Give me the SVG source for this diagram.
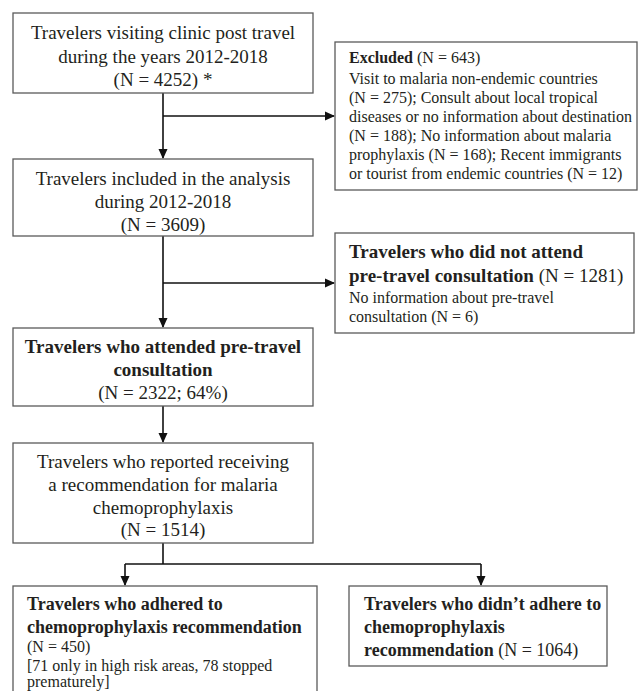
<svg xmlns="http://www.w3.org/2000/svg" width="639" height="691" viewBox="0 0 639 691">
<defs>
<style>
.box{fill:#fff;stroke:#5a5a5a;stroke-width:1.3}
.t{font-family:"Liberation Serif","Times New Roman",serif;fill:#231f20}
.big{font-size:19px}
.mid{font-size:18px}
.sm{font-size:16px}
.b{font-weight:bold}
.c{text-anchor:middle}
.ln{fill:none;stroke:#111;stroke-width:1.6}
</style>
<marker id="ah" markerWidth="10" markerHeight="10" refX="9" refY="5" orient="auto" markerUnits="userSpaceOnUse">
<path d="M0,0.5 L10,5 L0,9.5 Z" fill="#111"/>
</marker>
</defs>
<rect width="639" height="691" fill="#fff"/>
<g id="connectors">
<path class="ln" d="M163,93 V158" marker-end="url(#ah)"/>
<path class="ln" d="M163,116 H334" marker-end="url(#ah)"/>
<path class="ln" d="M163,236 V327" marker-end="url(#ah)"/>
<path class="ln" d="M163,283 H334" marker-end="url(#ah)"/>
<path class="ln" d="M163,406 V442" marker-end="url(#ah)"/>
<path class="ln" d="M163,543 V564"/>
<path class="ln" d="M125,564 H481"/>
<path class="ln" d="M125,564 V585" marker-end="url(#ah)"/>
<path class="ln" d="M481,564 V585" marker-end="url(#ah)"/>
</g>
<g id="n1">
<rect class="box" x="13" y="13" width="300" height="80"/>
<text class="t big c" x="163" y="39">Travelers visiting clinic post travel</text>
<text class="t big c" x="163" y="63">during the years 2012-2018</text>
<text class="t big c" x="163" y="86">(N = 4252) *</text>
</g>
<g id="excluded">
<rect class="box" x="335" y="42" width="302" height="148"/>
<text class="t sm" x="349" y="63"><tspan class="b">Excluded</tspan> (N = 643)</text>
<text class="t sm" x="349" y="84">Visit to malaria non-endemic countries</text>
<text class="t sm" x="349" y="103">(N = 275); Consult about local tropical</text>
<text class="t sm" x="349" y="122">diseases or no information about destination</text>
<text class="t sm" x="349" y="141">(N = 188); No information about malaria</text>
<text class="t sm" x="349" y="160">prophylaxis (N = 168); Recent immigrants</text>
<text class="t sm" x="349" y="179">or tourist from endemic countries (N = 12)</text>
</g>
<g id="n2">
<rect class="box" x="13" y="159" width="300" height="77"/>
<text class="t big c" x="163" y="185">Travelers included in the analysis</text>
<text class="t big c" x="163" y="208">during 2012-2018</text>
<text class="t big c" x="163" y="231">(N = 3609)</text>
</g>
<g id="notattend">
<rect class="box" x="335" y="233" width="299" height="100"/>
<text class="t big b" x="349" y="258">Travelers who did not attend</text>
<text class="t big" x="349" y="282"><tspan class="b">pre-travel consultation</tspan> (N = 1281)</text>
<text class="t sm" x="349" y="303">No information about pre-travel</text>
<text class="t sm" x="349" y="322">consultation (N = 6)</text>
</g>
<g id="n3">
<rect class="box" x="13" y="328" width="300" height="78"/>
<text class="t big c b" x="163" y="353">Travelers who attended pre-travel</text>
<text class="t big c b" x="163" y="376">consultation</text>
<text class="t big c" x="163" y="399">(N = 2322; 64%)</text>
</g>
<g id="n4">
<rect class="box" x="13" y="443" width="300" height="100"/>
<text class="t big c" x="163" y="468">Travelers who reported receiving</text>
<text class="t big c" x="163" y="491">a recommendation for malaria</text>
<text class="t big c" x="163" y="514">chemoprophylaxis</text>
<text class="t big c" x="163" y="536">(N = 1514)</text>
</g>
<g id="adhered">
<rect class="box" x="13" y="586" width="304" height="110"/>
<text class="t mid b" x="27" y="610">Travelers who adhered to</text>
<text class="t mid b" x="27" y="633">chemoprophylaxis recommendation</text>
<text class="t sm" x="27" y="652">(N = 450)</text>
<text class="t sm" x="27" y="671">[71 only in high risk areas, 78 stopped</text>
<text class="t sm" x="27" y="687">prematurely]</text>
</g>
<g id="notadhered">
<rect class="box" x="349" y="586" width="258" height="80"/>
<text class="t mid b" x="364" y="610">Travelers who didn’t adhere to</text>
<text class="t mid b" x="364" y="633">chemoprophylaxis</text>
<text class="t mid" x="364" y="656"><tspan class="b">recommendation</tspan> (N = 1064)</text>
</g>
</svg>
